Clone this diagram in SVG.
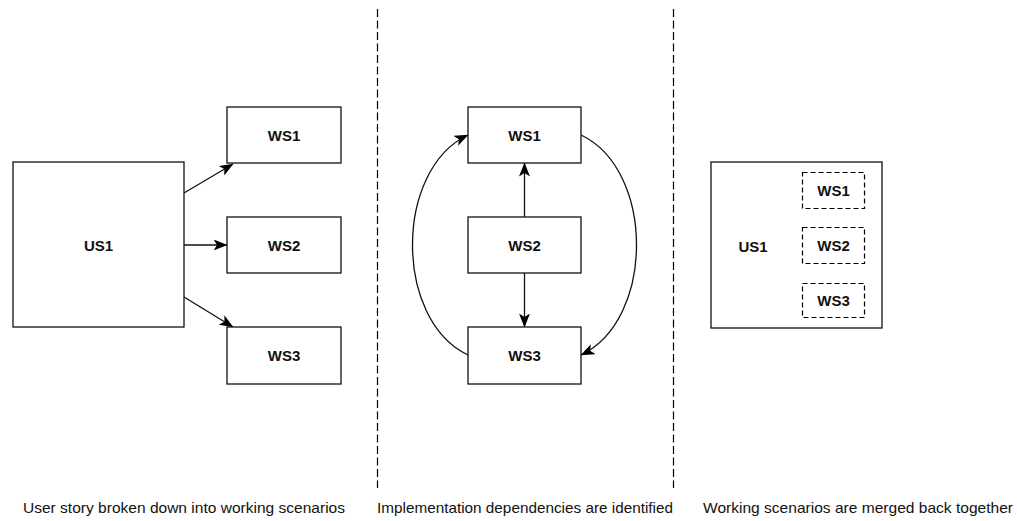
<svg xmlns="http://www.w3.org/2000/svg" width="1017" height="521" viewBox="0 0 1017 521">
  <defs>
    <marker id="arrow" markerUnits="userSpaceOnUse" markerWidth="14" markerHeight="11" viewBox="0 0 14 11" refX="13.5" refY="5.5" orient="auto">
      <path d="M0,0 L14,5.5 L0,11 L3.5,5.5 Z" fill="#000"/>
    </marker>
    <style>
      .box { fill: #fff; stroke: #111; stroke-width: 1.3; }
      .dbox { fill: #fff; stroke: #000; stroke-width: 1.2; stroke-dasharray: 5 3; }
      .lbl { font-family: "Liberation Sans", Arial, sans-serif; font-weight: bold; font-size: 15px; text-anchor: middle; dominant-baseline: central; fill: #111; }
      .cap { font-family: "Liberation Sans", Arial, sans-serif; font-size: 15px; fill: #111; }
      .conn { fill: none; stroke: #111; stroke-width: 1.3; marker-end: url(#arrow); }
      .sep { stroke: #000; stroke-width: 1.2; stroke-dasharray: 8 3.5; }
    </style>
  </defs>
  <rect width="1017" height="521" fill="#fff"/>

  <!-- section separators -->
  <g id="separators">
    <line class="sep" x1="377.5" y1="9" x2="377.5" y2="488"/>
    <line class="sep" x1="673.5" y1="9" x2="673.5" y2="488"/>
  </g>

  <!-- connectors -->
  <g id="connectors">
    <line class="conn" x1="184" y1="193" x2="233" y2="164"/>
    <line class="conn" x1="184" y1="245" x2="227" y2="245"/>
    <line class="conn" x1="184" y1="297" x2="233" y2="327"/>
    <line class="conn" x1="524.5" y1="217" x2="524.5" y2="163"/>
    <line class="conn" x1="524.5" y1="273" x2="524.5" y2="327"/>
    <path class="conn" d="M468,355 C394,320 394,170 468,135"/>
    <path class="conn" d="M581,135 C655,170 655,320 581,355"/>
  </g>

  <!-- left: breakdown -->
  <g id="us1-left">
    <rect class="box" x="13" y="162" width="171" height="165"/>
    <text class="lbl" x="98.5" y="245">US1</text>
  </g>
  <g id="ws1-left">
    <rect class="box" x="227" y="107" width="114" height="56"/>
    <text class="lbl" x="284" y="135">WS1</text>
  </g>
  <g id="ws2-left">
    <rect class="box" x="227" y="217" width="114" height="56"/>
    <text class="lbl" x="284" y="245">WS2</text>
  </g>
  <g id="ws3-left">
    <rect class="box" x="227" y="327" width="114" height="57"/>
    <text class="lbl" x="284" y="355.5">WS3</text>
  </g>

  <!-- middle: dependencies -->
  <g id="ws1-mid">
    <rect class="box" x="468" y="107" width="113" height="56"/>
    <text class="lbl" x="524.5" y="135">WS1</text>
  </g>
  <g id="ws2-mid">
    <rect class="box" x="468" y="217" width="113" height="56"/>
    <text class="lbl" x="524.5" y="245">WS2</text>
  </g>
  <g id="ws3-mid">
    <rect class="box" x="468" y="327" width="113" height="57"/>
    <text class="lbl" x="524.5" y="355.5">WS3</text>
  </g>

  <!-- right: merged -->
  <g id="us1-right">
    <rect class="box" x="711" y="162" width="171" height="166"/>
    <text class="lbl" x="753" y="246">US1</text>
  </g>
  <g id="ws1-right">
    <rect class="dbox" x="802.5" y="172.5" width="62" height="36"/>
    <text class="lbl" x="833.5" y="190.5">WS1</text>
  </g>
  <g id="ws2-right">
    <rect class="dbox" x="802.5" y="227.5" width="62" height="36"/>
    <text class="lbl" x="833.5" y="245.5">WS2</text>
  </g>
  <g id="ws3-right">
    <rect class="dbox" x="802.5" y="283.5" width="62" height="34"/>
    <text class="lbl" x="833.5" y="300.5">WS3</text>
  </g>

  <!-- captions -->
  <g id="captions">
    <text class="cap" x="23" y="513" textLength="322" lengthAdjust="spacingAndGlyphs">User story broken down into working scenarios</text>
    <text class="cap" x="377" y="513" textLength="296" lengthAdjust="spacingAndGlyphs">Implementation dependencies are identified</text>
    <text class="cap" x="703" y="513" textLength="310" lengthAdjust="spacingAndGlyphs">Working scenarios are merged back together</text>
  </g>
</svg>
